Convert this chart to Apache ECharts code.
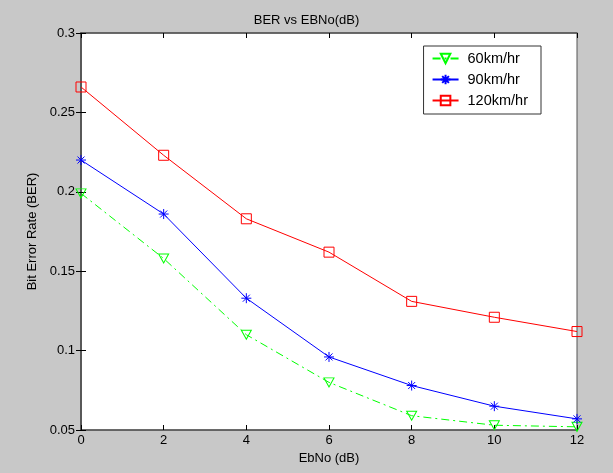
<!DOCTYPE html>
<html><head><meta charset="utf-8">
<script src="https://cdn.jsdelivr.net/npm/echarts@6/dist/echarts.min.js"></script>
<style>html,body{margin:0;padding:0;background:#c8c8c8;}#c{width:613px;height:473px;}</style>
</head><body><div id="c"></div>
<script>
var ebno = [0, 2, 4, 6, 8, 10, 12];
var ber60 = [0.199, 0.158, 0.110, 0.080, 0.059, 0.053, 0.052];
var ber90 = [0.220, 0.186, 0.133, 0.096, 0.078, 0.065, 0.057];
var ber120 = [0.266, 0.223, 0.183, 0.162, 0.131, 0.121, 0.112];
var seriesNames = ['60km/hr', '90km/hr', '120km/hr'];
var yTicks = [0.05, 0.1, 0.15, 0.2, 0.25, 0.3];

function pairs(ys){ return ebno.map(function(x,i){return [x, ys[i]];}); }
var font = 'Liberation Sans, Arial, sans-serif';
var star = 'path://M0,-5L0,5M-5,0L5,0M-3.5,-3.5L3.5,3.5M-3.5,3.5L3.5,-3.5';
var tri = 'path://M0,0L10,0L5,9Z';
var sq = 'path://M0,0L10,0L10,10L0,10Z';
var clear = 'rgba(255,255,255,0)';

var chart = echarts.init(document.getElementById('c'), null, {renderer:'canvas'});
var axisCommon = {
  axisLine:{show:true, lineStyle:{color:'#555', width:1.5}},
  axisTick:{show:true, inside:true, length:5, lineStyle:{color:'#000'}},
  splitLine:{show:false}
};
chart.setOption({
  backgroundColor:'#c8c8c8',
  animation:false,
  title:{text:'BER vs EBNo(dB)', left:'center', top:9, textStyle:{fontFamily:font, fontSize:13, fontWeight:'normal', color:'#000'}},
  grid:{left:81, right:36, top:33, bottom:43, show:true, backgroundColor:'#fff', borderColor:'#555', borderWidth:1},
  legend:{
    data:seriesNames, orient:'vertical', right:72, top:46,
    backgroundColor:'#fff', borderColor:'#333', borderWidth:1, padding:[5,13,6,8],
    itemWidth:26, itemHeight:12, itemGap:6,
    textStyle:{fontFamily:font, fontSize:14.5, color:'#000', padding:[0,0,0,4]}
  },
  xAxis:[
    Object.assign({type:'value', min:0, max:12, interval:2, position:'bottom',
      name:'EbNo (dB)', nameLocation:'middle', nameGap:22,
      nameTextStyle:{fontFamily:font, fontSize:13, color:'#000'},
      axisLabel:{fontFamily:font, fontSize:13, color:'#000', margin:4}}, axisCommon),
    Object.assign({type:'value', min:0, max:12, interval:2, position:'top', axisLabel:{show:false}}, axisCommon)
  ],
  yAxis:[
    Object.assign({type:'value', min:0.05, max:0.3, interval:0.05, position:'left',
      name:'Bit Error Rate (BER)', nameLocation:'middle', nameGap:40,
      nameTextStyle:{fontFamily:font, fontSize:13, color:'#000'},
      axisLabel:{fontFamily:font, fontSize:13, color:'#000', margin:6,
        formatter:function(v){ var t = yTicks.find(function(k){return Math.abs(k-v)<1e-9;}); return t===undefined? '' : String(+t.toFixed(2)); }}}, axisCommon),
    Object.assign({type:'value', min:0.05, max:0.3, interval:0.05, position:'right', axisLabel:{show:false}}, axisCommon)
  ],
  series:[
    {name:seriesNames[0], type:'line', data:pairs(ber60), symbol:tri, symbolSize:[10,9],
      lineStyle:{color:'#00ff00', width:1, type:[8,4,2,4]}, itemStyle:{color:clear, borderColor:'#00ff00', borderWidth:1}},
    {name:seriesNames[1], type:'line', data:pairs(ber90), symbol:star, symbolSize:10,
      lineStyle:{color:'#0000ff', width:1}, itemStyle:{color:'#0000ff', borderColor:'#0000ff', borderWidth:1}},
    {name:seriesNames[2], type:'line', data:pairs(ber120), symbol:sq, symbolSize:10,
      lineStyle:{color:'#ff0000', width:1}, itemStyle:{color:clear, borderColor:'#ff0000', borderWidth:1}}
  ]
});
</script></body></html>
